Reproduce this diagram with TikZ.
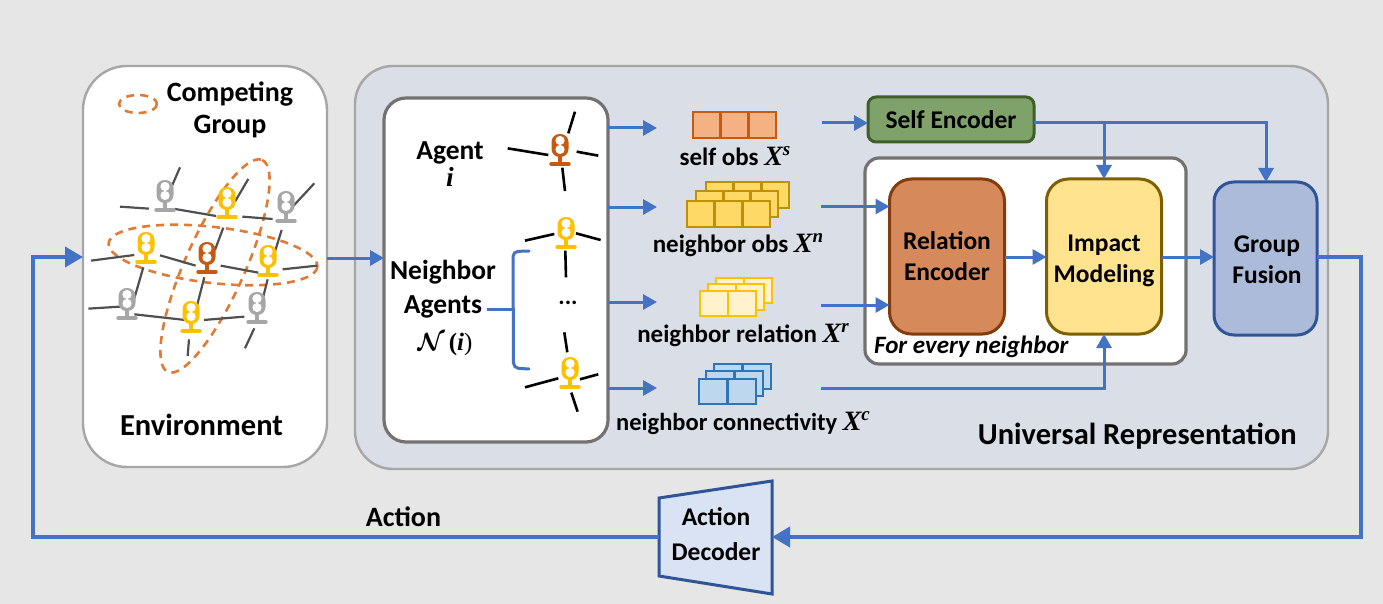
\documentclass[tikz,border=0pt]{standalone}
\usepackage{amsmath,bm}
\usepackage{fontspec}
\setmainfont{Carlito}
\newfontfamily\mathserif{Liberation Serif}
\usetikzlibrary{arrows.meta,calc}
\definecolor{flow}{HTML}{4472C4}
\definecolor{paper}{HTML}{E6E6E6}
\definecolor{panelfill}{HTML}{D9DEE7}
\definecolor{edgegray}{HTML}{A6A6A6}
\definecolor{edgedark}{HTML}{767171}
\definecolor{linkgray}{HTML}{505050}
\definecolor{dashorange}{HTML}{DE7B36}
\definecolor{agentyellow}{HTML}{FFC000}
\definecolor{agentbrown}{HTML}{C55A11}
\definecolor{selffill}{HTML}{F4B183}
\definecolor{obsfill}{HTML}{FFD966}
\definecolor{obsdraw}{HTML}{BF9000}
\definecolor{relfill}{HTML}{FFF2CC}
\definecolor{confill}{HTML}{BDD7EE}
\definecolor{condraw}{HTML}{2E75B6}
\definecolor{segreen}{HTML}{7FA26B}
\definecolor{segreenline}{HTML}{3F5F2A}
\definecolor{reorange}{HTML}{D6895A}
\definecolor{reline}{HTML}{843C0C}
\definecolor{imfill}{HTML}{FFE38F}
\definecolor{imline}{HTML}{7F6000}
\definecolor{gffill}{HTML}{ADBBDB}
\definecolor{gfline}{HTML}{2F5597}
\definecolor{decfill}{HTML}{DAE3F3}
\newcommand{\fs}[1]{\fontsize{#1}{#1}\selectfont\bfseries}
\newcommand{\xsym}[2]{{\mathserif\bfseries\itshape\fontsize{28}{28}\selectfont #1\raisebox{0.36em}{\fontsize{19}{19}\selectfont #2}}}
\newcommand{\agentico}[3]{%
  \begin{scope}[shift={(#1,#2)}]
    \fill[#3,rounded corners=8pt] (-8.5,-30) rectangle (8.5,-7);
    \fill[#3] (-1.7,-9) rectangle (1.7,0);
    \draw[#3,line width=3.4pt,line cap=round] (-9,0) -- (9,0);
    \fill[white] (0,-23.5) circle (4.6pt);
    \fill[white] (0,-14.5) circle (4.6pt);
  \end{scope}}
\newcommand{\cellrow}[8]{% x0 y0 x1 y1 n fill draw lw
  \draw[fill=#6,draw=#7,line width=#8] (#1,#2) rectangle (#3,#4);
  \foreach \k in {1,...,#5}{
    \ifnum\k<#5
    \draw[draw=#7,line width=#8] ({#1+(#3-#1)*\k/#5},#2) -- ({#1+(#3-#1)*\k/#5},#4);
    \fi}}
\tikzset{
  flowthin/.style={draw=flow,line width=3pt,-{Triangle[length=14pt,width=15pt]}},
  flowthick/.style={draw=flow,line width=3.8pt,-{Triangle[length=18pt,width=20pt]}},
  roundbox/.style={rectangle,outer sep=0pt,inner sep=0pt,align=center},
  label/.style={inner sep=0pt,align=center,text=black},
  groupdash/.style={draw=dashorange,line width=2.6pt,dash pattern=on 8pt off 6pt},
  link/.style={draw=linkgray,line width=2.2pt},
  blacklink/.style={draw=black,line width=2.6pt},
}
\begin{document}
\begin{tikzpicture}[x=1pt,y=-1pt]
\useasboundingbox (0,0) rectangle (1383,604);
\fill[paper] (0,0) rectangle (1383,604);

% main containers
\node[roundbox,draw=edgegray,fill=white,line width=2.4pt,rounded corners=44pt,minimum width=244pt,minimum height=401pt] (env) at (205,266.5) {};
\node[roundbox,draw=edgegray,fill=panelfill,line width=2.4pt,rounded corners=38pt,minimum width=973pt,minimum height=403pt] (uni) at (841.5,267.5) {};
\node[roundbox,draw=edgedark,fill=white,line width=3.2pt,rounded corners=22pt,minimum width=224pt,minimum height=344pt] (agents) at (496,270) {};
\node[roundbox,draw=edgedark,fill=white,line width=3.2pt,rounded corners=14pt,minimum width=321pt,minimum height=206pt] (every) at (1025.5,261) {};

% environment: competing groups
\draw[groupdash] (138,104) ellipse [x radius=19,y radius=9];
\draw[groupdash,rotate around={-6.5:(213,255)}] (213,255) ellipse [x radius=105,y radius=28];
\draw[groupdash,rotate around={66:(215,266)}] (215,266) ellipse [x radius=116,y radius=30];

% environment: road links
\begin{scope}[shift={(80,60)},x=0.3333pt,y=-0.3333pt]
\foreach \a/\b/\c/\d in {300/322/262/410,120/440/207/446,285/447/408/468,505/357/465/425,487/470/578/477,703/370/640/438,430/503/405/570,605/510/585/575,33/602/163/585,240/586/347/617,422/617/535/638,608/628/712/617,190/622/163/715,373/652/340/780,563/658/545/730,25/746/120/740,163/763/315/780,372/780/493/770,327/838/323/888,523/805/495/865}
  \draw[link] (\a,\b) -- (\c,\d);
\end{scope}
\agentico{165}{210}{edgegray}
\agentico{227}{217}{agentyellow}
\agentico{286}{221}{edgegray}
\agentico{146}{262}{agentyellow}
\agentico{207}{272}{agentbrown}
\agentico{268}{275}{agentyellow}
\agentico{127}{318}{edgegray}
\agentico{191}{331}{agentyellow}
\agentico{257}{322}{edgegray}

% agent panel drawing
\begin{scope}[shift={(380,90)},x=0.3333pt,y=-0.3333pt]
\foreach \a/\b/\c/\d in {383/175/505/195,585/65/565/130,590/185/655/197,547/233/555/303,435/452/523/432,588/430/662/450,556/482/558/562,553/727/562/787,435/892/535/865,600/868/655/853,574/908/593/965}
  \draw[blacklink] (\a,\b) -- (\c,\d);
\end{scope}
\agentico{560}{164}{agentbrown}
\agentico{566}{247}{agentyellow}
\agentico{570}{387}{agentyellow}
\node[label,font=\fs{24}] (dots) at (568,303) {...};

% brace
\coordinate (bracetip) at (487,309.5);
\draw[flow,line width=3pt,line cap=round,rounded corners=5pt] (529,251) -- (513,251.5) -- (513.5,368) -- (529,369);
\draw[flow,line width=3pt] (bracetip) -- (513,309.5);

% cell stacks
\cellrow{706}{182}{789}{208}{3}{obsfill}{obsdraw}{2.8pt}
\cellrow{696}{191}{778}{217}{3}{obsfill}{obsdraw}{2.8pt}
\cellrow{687}{201}{770}{227}{3}{obsfill}{obsdraw}{2.8pt}
\cellrow{693}{112}{776}{138}{3}{selffill}{agentbrown}{2.8pt}
\cellrow{716}{278}{772}{303}{2}{relfill}{agentyellow}{2.8pt}
\cellrow{708}{284}{764}{310}{2}{relfill}{agentyellow}{2.8pt}
\cellrow{700}{291}{756}{316}{2}{relfill}{agentyellow}{2.8pt}
\cellrow{714}{364}{771}{389}{2}{confill}{condraw}{2.8pt}
\cellrow{706}{371}{763}{396}{2}{confill}{condraw}{2.8pt}
\cellrow{699}{379}{756}{404}{2}{confill}{condraw}{2.8pt}

% process boxes
\node[roundbox,draw=segreenline,fill=segreen,line width=3pt,rounded corners=8pt,minimum width=166pt,minimum height=45pt,font=\fs{25.5}] (selfenc) at (951,119.5) {Self Encoder};
\node[roundbox,draw=reline,fill=reorange,line width=3pt,rounded corners=22pt,minimum width=115pt,minimum height=155pt] (relenc) at (947,256.5) {};
\node[label,font=\fs{25.5}] (relenctext) at (947,256.5) {Relation\\[5.5pt]Encoder};
\node[roundbox,draw=imline,fill=imfill,line width=3pt,rounded corners=22pt,minimum width=115pt,minimum height=155pt] (impact) at (1104,256.5) {};
\node[label,font=\fs{25.5}] (impacttext) at (1104,261) {Impact\\[5.5pt]Modeling};
\node[roundbox,draw=gfline,fill=gffill,line width=3pt,rounded corners=20pt,minimum width=103pt,minimum height=153pt] (fusion) at (1265.5,258.5) {};
\node[label,font=\fs{25.5}] (fusiontext) at (1267,260) {Group\\[5.5pt]Fusion};

% action decoder
\draw[draw=gfline,fill=decfill,line width=3pt] (659,498) coordinate (dtl) -- (772,481) coordinate (dtr) -- (772,594) coordinate (dbr) -- (659,576) coordinate (dbl) -- cycle;
\node[label,font=\fs{25.5}] (dectext) at (716,534) {Action\\[9pt]Decoder};
\coordinate (decin) at (772,537);
\coordinate (decout) at (659,537);

% labels
\node[label,font=\fs{28}] (compete) at (230,110) {Competing\\[4pt]Group};
\node[label,font=\fs{30.5}] (envlabel) at (201.5,424.5) {Environment};
\node[label,font=\fs{30.5},anchor=east] (unilabel) at (1297,436.5) {Universal Representation};
\node[label,font=\fs{27.5}] (agentlabel) at (450,164) {Agent\\{\mathserif\bfseries\itshape i}};
\node[label,font=\fs{27.5}] (nblabel) at (443,289) {Neighbor\\[6pt]Agents};
\node[label,font=\fs{25}] (nset) at (445,344) {$\boldsymbol{\mathcal{N}}${\mathserif\,(\bfseries\itshape i\mdseries\upshape)}};
\node[label,font=\fs{25},anchor=center] (lself) at (735,156) {self obs \xsym{X}{s}};
\node[label,font=\fs{25},anchor=center] (lobs) at (738,245) {neighbor obs \xsym{X}{n}};
\node[label,font=\fs{25},anchor=center] (lrel) at (743,335) {neighbor relation \xsym{X}{r}};
\node[label,font=\fs{24.5},anchor=center] (lcon) at (743,423) {neighbor connectivity \xsym{X}{c}};
\node[label,font=\fs{25},anchor=west] (levery) at (874,347) {\itshape For every neighbor};
\node[label,font=\fs{28}] (lact) at (403.5,517) {Action};

% input/output coordinates
\coordinate (t1) at (657,128);
\coordinate (t2) at (657,207);
\coordinate (t3) at (657,302);
\coordinate (t4) at (657,388);
\coordinate (s1) at (822,123);
\coordinate (s2) at (821,206.5);
\coordinate (s3) at (821,305);
\coordinate (s4) at (821,388);
\coordinate (selfout) at (selfenc.east |- 0,123);
\coordinate (split) at (1104,123);

% flow arrows
\draw[flowthin] (env.east |- 0,258) -- (agents.west |- 0,258);
\draw[flowthin] (agents.east |- t1) -- (t1);
\draw[flowthin] (agents.east |- t2) -- (t2);
\draw[flowthin] (agents.east |- t3) -- (t3);
\draw[flowthin] (agents.east |- t4) -- (t4);
\draw[flowthin] (s1) -- (selfenc.west |- s1);
\draw[flowthin] (s2) -- (relenc.west |- s2);
\draw[flowthin] (s3) -- (relenc.west |- s3);
\draw[flowthin] (s4) -| (impact.south);
\draw[flowthin] (selfout) -- (split) -- (impact.north);
\draw[flowthin] (split) -| (fusion.north -| 1266,0);
\draw[flowthin] (relenc.east |- 0,257) -- (impact.west |- 0,257);
\draw[flowthin] (impact.east |- 0,257) -- (fusion.west |- 0,257);
\draw[flowthick] (fusion.east |- 0,257) -- (1361,257) -- (1361,537) -- (decin);
\draw[flowthick] (decout) -- (33,537) -- (33,257) -- (env.west |- 0,257);
\end{tikzpicture}
\end{document}
